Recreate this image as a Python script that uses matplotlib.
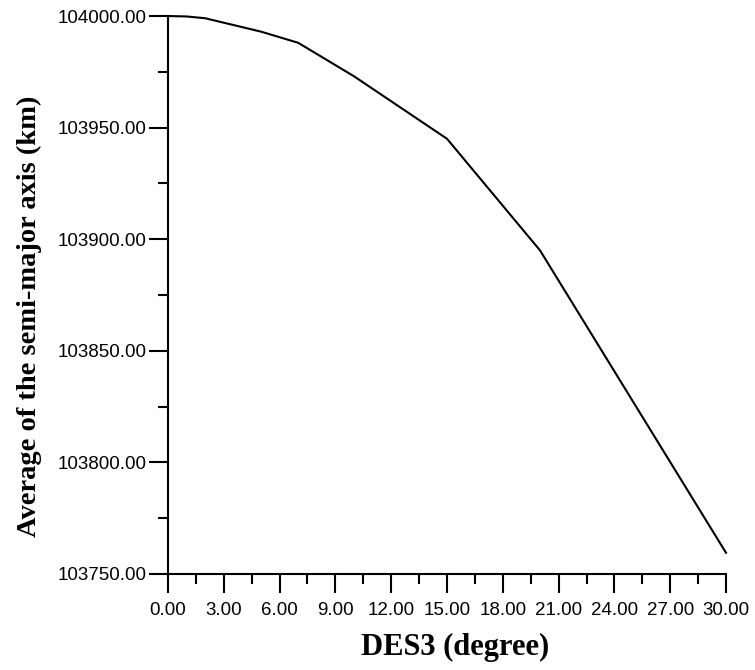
import matplotlib.pyplot as plt
from matplotlib.ticker import MultipleLocator, FormatStrFormatter

des3 = [0, 1, 2, 5, 7, 10, 15, 20, 30]
semi_major = [104000.0, 103999.8, 103999.0, 103993.0, 103988.0, 103973.0, 103945.0, 103895.0, 103759.5]

fig = plt.figure(figsize=(7.55, 6.70), dpi=100)
ax = fig.add_axes([0.2225, 0.1433, 0.7391, 0.8328])

ax.plot(des3, semi_major, color='black', lw=1.5, clip_on=False)

ax.set_xlim(0, 30)
ax.set_ylim(103750, 104000)

ax.xaxis.set_major_locator(MultipleLocator(3))
ax.xaxis.set_minor_locator(MultipleLocator(1.5))
ax.yaxis.set_major_locator(MultipleLocator(50))
ax.yaxis.set_minor_locator(MultipleLocator(25))
ax.xaxis.set_major_formatter(FormatStrFormatter('%.2f'))
ax.yaxis.set_major_formatter(FormatStrFormatter('%.2f'))

for s in ['top', 'right']:
    ax.spines[s].set_visible(False)
for s in ['left', 'bottom']:
    ax.spines[s].set_linewidth(1.5)

ax.tick_params(which='major', direction='out', length=14, width=1.5,
               labelsize=13.5)
ax.tick_params(which='minor', direction='out', length=7, width=1.5)
ax.tick_params(axis='x', which='major', pad=6)
ax.tick_params(axis='y', which='major', pad=1.5)
for lab in ax.get_xticklabels() + ax.get_yticklabels():
    lab.set_family('Liberation Sans')

ax.set_xlabel('DES3 (degree)', family='Liberation Serif', fontweight='bold',
              fontsize=22, labelpad=10)
ax.set_ylabel('Average of the semi-major axis (km)', family='Liberation Serif',
              fontweight='bold', fontsize=20.5, labelpad=11)
ax.xaxis.label.set_x(0.514)
ax.yaxis.label.set_y(0.462)

fig.savefig('out.png', dpi=100)
